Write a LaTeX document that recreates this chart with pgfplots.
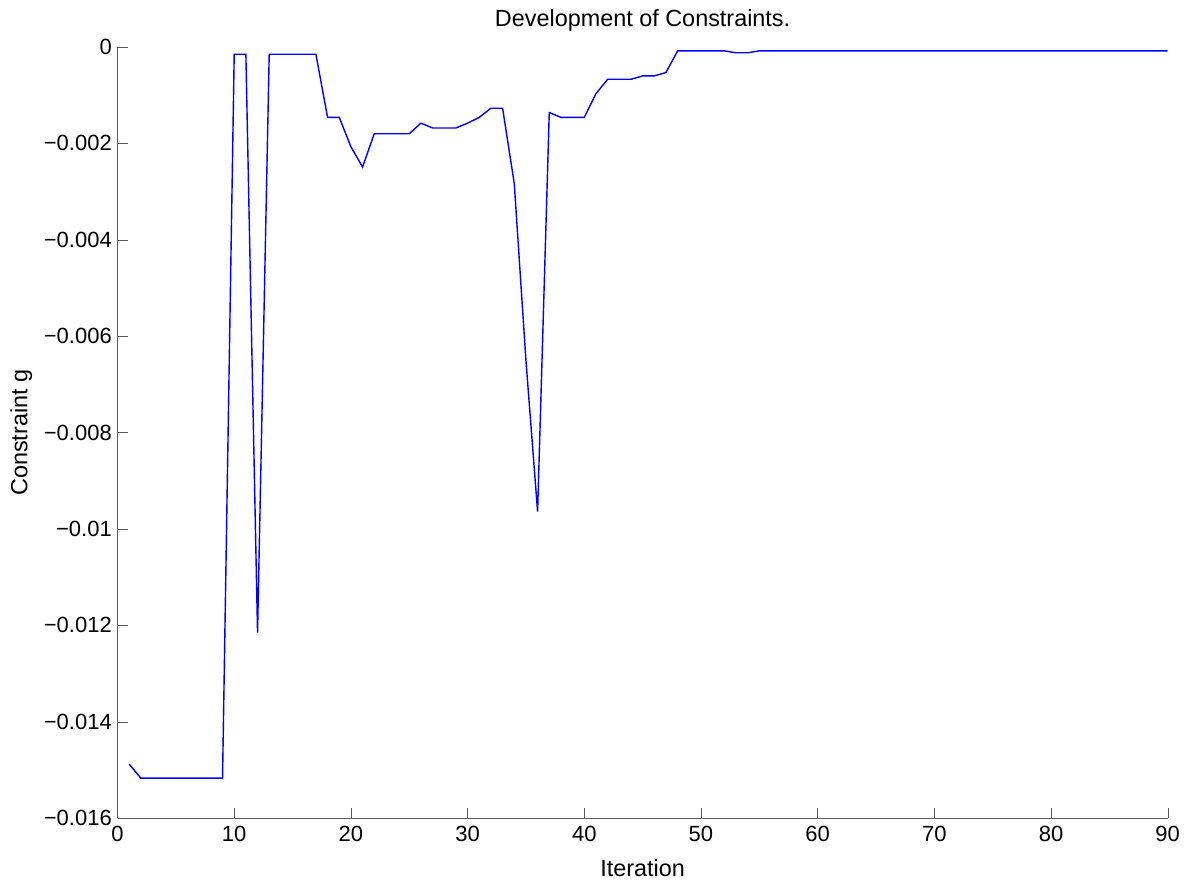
\documentclass[border=0pt]{standalone}
\usepackage{pgfplots}
\pgfplotsset{compat=1.18}
\usepackage{fontspec}
\setmainfont{Liberation Sans}
\begin{document}
\fontsize{11}{13}\selectfont
\begin{tikzpicture}
\begin{axis}[
  scale only axis,
  width=525pt, height=385.5pt,
  xmin=0, xmax=90, ymin=-0.016, ymax=0,
  axis x line*=bottom, axis y line*=left,
  axis line style={-, draw=black!65},
  tick align=inside,
  major tick length=5pt,
  tick style={draw=black!65},
  xtick={0,10,...,90},
  ytick={-0.016,-0.014,-0.012,-0.01,-0.008,-0.006,-0.004,-0.002,0},
  yticklabels={−0.016,−0.014,−0.012,−0.01,−0.008,−0.006,−0.004,−0.002,0},
  /pgf/number format/assume math mode=true,
  xticklabel style={font=\fontsize{11}{13}\selectfont},
  yticklabel style={font=\fontsize{11}{13}\selectfont, xshift=1pt},
  scaled y ticks=false,
  title={Development of Constraints.},
  every axis title/.style={at={(axis description cs:0.5,1.035)}, anchor=center, font=\fontsize{11.7}{13}\selectfont},
  xlabel={Iteration},
  every axis x label/.style={at={(axis description cs:0.5,-0.0648)}, anchor=center, font=\fontsize{11.7}{13}\selectfont},
  ylabel={Constraint g},
  every axis y label/.style={at={(axis description cs:-0.0915,0.5)}, rotate=90, anchor=center, font=\fontsize{11.7}{13}\selectfont},
  clip=false,
]
\addplot[blue, line width=0.7pt, mark=none] coordinates {
(1,-0.01488) (2,-0.01517) (3,-0.01517) (4,-0.01517) (5,-0.01517) (6,-0.01517) (7,-0.01517) (8,-0.01517) (9,-0.01517)
(10,-0.00015) (11,-0.00015) (12,-0.01215) (13,-0.00015) (14,-0.00015) (15,-0.00015) (16,-0.00015) (17,-0.00015)
(18,-0.00146) (19,-0.00146) (20,-0.00207) (21,-0.00249) (22,-0.0018) (23,-0.0018) (24,-0.0018) (25,-0.0018)
(26,-0.00158) (27,-0.00168) (28,-0.00168) (29,-0.00168) (30,-0.00158) (31,-0.00146) (32,-0.00127) (33,-0.00127)
(34,-0.00283) (35,-0.0065) (36,-0.00964) (37,-0.00136) (38,-0.00146) (39,-0.00146) (40,-0.00146)
(41,-0.00097) (42,-0.00067) (43,-0.00067) (44,-0.00067) (45,-0.0006) (46,-0.0006) (47,-0.00053)
(48,-0.00008) (49,-0.00008) (50,-0.00008) (51,-0.00008) (52,-0.00008) (53,-0.00012) (54,-0.00012)
(55,-0.00008) (60,-0.00008) (70,-0.00008) (80,-0.00008) (90,-0.00008)
};
\end{axis}
\pgfresetboundingbox
\path (-58.75pt,-32.5pt) rectangle (537.15pt,409pt);
\end{tikzpicture}
\end{document}
